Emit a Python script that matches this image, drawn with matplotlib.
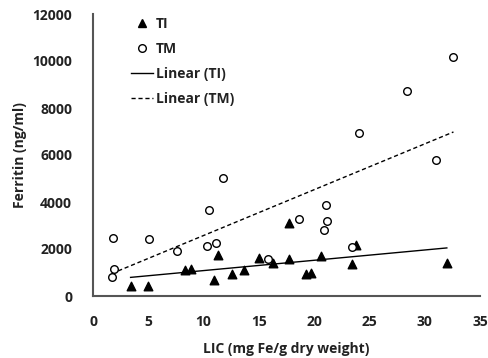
import numpy as np
import matplotlib
matplotlib.use("Agg")
import matplotlib.pyplot as plt
from matplotlib.lines import Line2D

# --- data ---
ti_lic = [3.4, 5.0, 8.3, 8.9, 10.95, 11.3, 12.6, 13.7, 15.0, 16.3, 17.7, 17.75,
          19.3, 19.7, 20.6, 23.45, 23.8, 32.0]
ti_fer = [425, 425, 1100, 1130, 700, 1740, 950, 1090, 1600, 1400, 1560, 3120,
          950, 990, 1700, 1370, 2170, 1420]

tm_lic = [1.7, 1.9, 1.8, 5.1, 7.6, 10.3, 11.1, 10.5, 11.8, 15.8, 18.6, 20.9,
          21.1, 21.2, 23.45, 31.0, 32.6, 28.4, 24.1]
tm_fer = [810, 1150, 2450, 2410, 1900, 2110, 2270, 3680, 5020, 1570, 3260, 2790,
          3880, 3200, 2070, 5770, 10160, 8710, 6940]

x_ticks = [0, 5, 10, 15, 20, 25, 30, 35]
y_ticks = [0, 2000, 4000, 6000, 8000, 10000, 12000]

plt.rcParams['font.family'] = ['Open Sans', 'DejaVu Sans']
plt.rcParams['font.weight'] = 'bold'

fig = plt.figure(figsize=(4.89, 3.58), dpi=100)
ax = fig.add_axes([93/489, 1-296/358, (480-93)/489, (296-14)/358])

ax.scatter(ti_lic, ti_fer, marker='^', s=38, color='black', zorder=3)
ax.scatter(tm_lic, tm_fer, marker='o', s=30, facecolors='white',
           edgecolors='black', linewidths=1.0, zorder=3)

# linear trendlines (least squares)
for xs, ys, ls in [(ti_lic, ti_fer, '-'), (tm_lic, tm_fer, (0, (3, 2)))]:
    xs = np.array(xs); ys = np.array(ys)
    k, b = np.polyfit(xs, ys, 1)
    xx = np.array([xs.min(), xs.max()])
    ax.plot(xx, k*xx + b, color='black', lw=1.0, linestyle=ls, zorder=2)

ax.set_xlim(0, 35)
ax.set_ylim(0, 12000)
ax.set_xticks(x_ticks)
ax.set_yticks(y_ticks)
ax.tick_params(length=0, labelsize=10, colors='#222222')
ax.tick_params(axis='x', pad=14)
ax.tick_params(axis='y', pad=15)
for lab in ax.get_xticklabels() + ax.get_yticklabels():
    lab.set_fontweight('bold')
for s in ['top', 'right']:
    ax.spines[s].set_visible(False)
for s in ['left', 'bottom']:
    ax.spines[s].set_color('#555555')
    ax.spines[s].set_linewidth(1.5)

ax.set_xlabel('LIC (mg Fe/g dry weight)', fontsize=10, fontweight='bold',
              color='#222222', labelpad=9)
ax.set_ylabel('Ferritin (ng/ml)', fontsize=10, fontweight='bold',
              color='#222222', labelpad=4)

handles = [
    Line2D([], [], marker='^', color='black', linestyle='none', markersize=6),
    Line2D([], [], marker='o', markerfacecolor='white', markeredgecolor='black',
           linestyle='none', markersize=5.5),
    Line2D([], [], color='black', lw=1.0),
    Line2D([], [], color='black', lw=1.0, linestyle=(0, (3, 2))),
]
labels = ['TI', 'TM', 'Linear (TI)', 'Linear (TM)']
leg = ax.legend(handles, labels, loc='upper left', bbox_to_anchor=(0.065, 1.035),
                frameon=False, handlelength=1.6, handletextpad=0.2,
                labelspacing=0.8, prop={'size': 10, 'weight': 'bold'})
for t in leg.get_texts():
    t.set_color('#222222')

fig.savefig('out.png', dpi=100)
